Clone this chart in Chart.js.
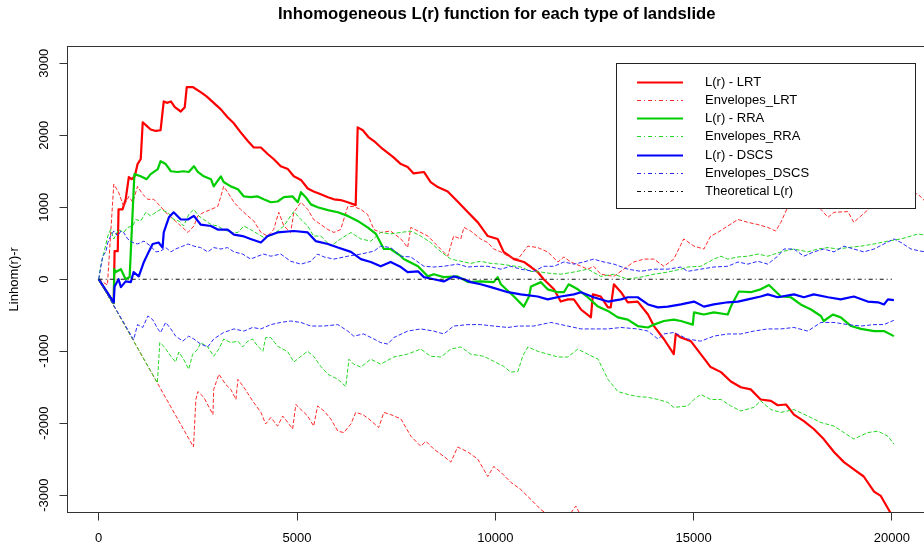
<!DOCTYPE html>
<html>
<head>
<meta charset="utf-8">
<title>Inhomogeneous L(r) function</title>
<script src="https://cdn.jsdelivr.net/npm/chart.js@4.4.1/dist/chart.umd.min.js"></script>
<style>
  html, body { margin: 0; padding: 0; background: #fff; overflow: hidden; }
  #wrap { position: relative; width: 930px; height: 550px; }
</style>
</head>
<body>
<div id="wrap"><canvas id="chart"></canvas></div>
<script>
// Axis ticks
const xTicks = [0, 5000, 10000, 15000, 20000];
const yTicks = [-3000, -2000, -1000, 0, 1000, 2000, 3000];

const chartTitle = 'Inhomogeneous L(r) function for each type of landslide';
const yTitle = 'Linhom(r)-r';

// Observed L(r)-r, one series per landslide type ([r, value])
const lrtObs = [[0,0],[380,-330],[400,390],[480,390],[500,970],[600,970],[680,1110],[760,1420],[830,1390],[910,1430],[980,1600],[1060,1670],[1110,2180],[1210,2130],[1310,2080],[1440,2060],[1560,2070],[1640,2470],[1720,2450],[1820,2470],[1920,2390],[2070,2330],[2170,2390],[2220,2670],[2370,2670],[2570,2600],[2720,2540],[2880,2460],[3080,2360],[3250,2250],[3400,2170],[3580,2040],[3760,1920],[3910,1830],[4090,1830],[4260,1740],[4410,1670],[4590,1570],[4770,1530],[4920,1430],[5100,1380],[5270,1260],[5420,1220],[5600,1180],[5780,1140],[5930,1110],[6100,1100],[6280,1070],[6430,1040],[6480,1030],[6530,2110],[6660,2070],[6810,1970],[6940,1920],[7160,1810],[7420,1700],[7620,1600],[7790,1560],[7940,1470],[8200,1490],[8370,1350],[8550,1280],[8800,1220],[9050,1080],[9310,930],[9560,790],[9810,600],[10060,560],[10210,380],[10470,280],[10720,240],[10900,170],[11070,100],[11220,0],[11480,-140],[11650,-310],[11830,-280],[11980,-280],[12160,-420],[12410,-530],[12460,-210],[12660,-240],[12840,-390],[12910,-390],[12990,-70],[13170,-180],[13340,-320],[13590,-310],[13850,-490],[14000,-650],[14250,-830],[14500,-1040],[14550,-760],[14680,-810],[14930,-860],[15180,-1040],[15430,-1220],[15690,-1290],[15940,-1420],[16190,-1500],[16440,-1530],[16690,-1670],[16950,-1690],[17120,-1750],[17330,-1740],[17530,-1880],[17780,-1970],[18030,-2080],[18280,-2220],[18540,-2400],[18790,-2540],[19040,-2640],[19290,-2740],[19550,-2950],[19720,-3010],[19970,-3250]];

const rraObs = [[0,0],[380,-330],[390,140],[430,100],[560,140],[680,0],[780,30],[900,1460],[1060,1430],[1210,1390],[1310,1460],[1490,1530],[1560,1640],[1690,1600],[1820,1500],[1990,1490],[2140,1500],[2270,1490],[2400,1570],[2500,1490],[2650,1430],[2830,1390],[2900,1290],[3080,1430],[3150,1350],[3330,1290],[3510,1250],[3660,1150],[3830,1140],[4010,1150],[4160,1110],[4340,1070],[4510,1080],[4670,1140],[4890,1150],[5020,1070],[5100,1210],[5220,1140],[5350,1040],[5520,1000],[5780,960],[6030,930],[6280,880],[6530,810],[6780,720],[6990,630],[7190,420],[7360,420],[7620,320],[7690,280],[8050,180],[8300,40],[8450,70],[8700,30],[9050,40],[9310,-40],[9630,-30],[9960,-40],[10060,30],[10140,-70],[10470,-240],[10720,-380],[10850,-240],[10900,-100],[11150,-40],[11320,-140],[11580,-180],[11730,-180],[11850,-70],[12080,-140],[12330,-250],[12590,-380],[12840,-440],[13090,-530],[13340,-560],[13590,-650],[13850,-670],[14000,-630],[14250,-580],[14500,-560],[14680,-580],[14980,-630],[15010,-460],[15260,-490],[15510,-460],[15860,-490],[15940,-380],[16140,-170],[16440,-180],[16690,-140],[16900,-80],[17070,-170],[17200,-240],[17450,-250],[17700,-350],[17960,-420],[18210,-510],[18280,-580],[18510,-490],[18710,-530],[18970,-650],[19220,-690],[19550,-720],[19800,-720],[20050,-790]];

const dscsObs = [[0,0],[380,-320],[400,-100],[500,0],[560,-110],[680,-30],[810,-40],[880,100],[1010,40],[1140,240],[1260,380],[1360,490],[1510,510],[1610,440],[1640,650],[1770,860],[1890,930],[2070,830],[2250,830],[2400,880],[2570,760],[2830,740],[3000,690],[3250,690],[3410,620],[3630,600],[3830,560],[4090,510],[4260,600],[4510,650],[4920,670],[5270,650],[5470,530],[5780,490],[6030,440],[6360,380],[6610,280],[6860,240],[7110,180],[7360,240],[7620,170],[7790,100],[8050,110],[8200,30],[8450,0],[8700,-30],[8950,40],[9210,0],[9380,-40],[9630,-70],[9890,-110],[10320,-180],[10640,-210],[11070,-240],[11320,-280],[11650,-240],[11980,-210],[12160,-180],[12480,-250],[12840,-310],[13170,-280],[13340,-250],[13590,-250],[13850,-350],[14100,-390],[14350,-380],[14680,-350],[15010,-310],[15260,-380],[15510,-350],[15860,-320],[16120,-310],[16370,-280],[16690,-240],[16870,-210],[17120,-250],[17530,-210],[17780,-250],[18030,-210],[18390,-250],[18710,-280],[19040,-240],[19390,-310],[19650,-320],[19800,-350],[19900,-280],[20050,-290]];

// Simulation envelopes (upper / lower)
const lrtEnvHi = [[0,0],[220,-80],[380,1320],[500,1210],[630,1010],[760,1150],[860,1070],[980,1290],[1110,1180],[1240,1110],[1390,1110],[1560,1010],[1740,900],[1890,830],[2070,740],[2250,650],[2400,740],[2500,880],[2650,930],[2830,970],[3000,1010],[3080,1150],[3150,1290],[3250,1210],[3410,1070],[3580,970],[3760,880],[3910,810],[4090,650],[4260,600],[4410,690],[4540,930],[4670,740],[4840,650],[4920,930],[5100,1070],[5270,970],[5420,830],[5600,760],[5780,690],[5930,650],[6100,690],[6280,1010],[6430,1010],[6610,970],[6780,900],[6940,690],[7110,650],[7360,670],[7620,560],[7790,440],[7870,720],[8050,670],[8300,600],[8550,460],[8800,320],[8950,600],[9130,560],[9210,720],[9380,670],[9630,560],[9810,510],[9960,420],[10140,380],[10320,320],[10570,280],[10820,460],[11070,440],[11320,380],[11580,240],[11730,310],[11900,240],[12160,180],[12330,140],[12480,180],[12660,70],[12990,40],[13240,140],[13490,240],[13750,280],[14000,280],[14250,180],[14500,280],[14750,560],[15010,460],[15260,420],[15430,600],[15610,650],[15860,740],[16120,830],[16370,790],[16620,760],[16870,720],[17070,670],[17200,790],[17380,1010],[17450,1110],[17700,1220],[18010,1250],[18210,970],[18390,860],[18540,930],[18890,940],[19040,790],[19220,880],[19470,1000],[20050,1110],[20230,1150],[20480,1210],[20660,1180],[20860,1070]];

const lrtEnvLo = [[0,0],[2390,-2330],[2450,-1670],[2500,-1560],[2650,-1640],[2880,-1880],[2900,-1530],[3030,-1320],[3200,-1460],[3330,-1530],[3460,-1670],[3510,-1390],[3660,-1500],[3880,-1690],[4090,-1850],[4210,-2010],[4340,-1920],[4510,-2040],[4640,-1900],[4770,-1990],[4890,-2080],[4970,-1740],[5100,-1810],[5270,-1900],[5420,-2040],[5520,-1760],[5680,-1830],[5850,-1940],[6030,-2110],[6180,-2130],[6360,-2010],[6480,-1850],[6660,-1880],[6810,-1940],[7060,-2060],[7190,-1850],[7360,-1880],[7620,-1940],[7870,-2180],[8120,-2320],[8250,-2250],[8450,-2360],[8700,-2460],[8880,-2540],[9050,-2330],[9310,-2400],[9560,-2500],[9810,-2740],[9960,-2600],[10140,-2680],[10390,-2820],[10640,-2920],[10900,-3060],[11150,-3200],[11400,-3300],[11780,-3340],[12030,-3150],[12200,-3330],[13000,-3500],[14000,-3700],[15000,-3900],[16000,-4100],[17000,-4300],[18000,-4500],[19000,-4700],[20000,-4900]];

const rraEnvHi = [[0,0],[50,180],[230,600],[300,690],[380,560],[500,690],[630,650],[730,720],[860,740],[930,830],[1060,810],[1190,930],[1310,880],[1440,930],[1560,970],[1740,930],[1890,830],[2020,810],[2140,740],[2270,900],[2400,970],[2520,880],[2650,830],[2830,760],[3000,740],[3150,690],[3330,650],[3510,650],[3660,740],[3830,690],[4010,630],[4160,580],[4340,600],[4510,670],[4670,740],[4840,880],[4920,940],[5100,830],[5270,740],[5420,600],[5600,600],[5850,460],[6100,560],[6360,650],[6610,560],[6860,530],[7110,650],[7360,630],[7620,650],[7870,670],[8120,600],[8370,510],[8630,380],[8880,280],[9130,250],[9380,220],[9630,250],[9890,220],[10140,210],[10390,190],[10640,170],[10900,110],[11150,100],[11400,80],[11650,70],[11980,100],[12330,140],[12660,40],[12990,70],[13340,0],[13670,30],[14000,70],[14350,100],[14680,140],[14850,170],[15180,180],[15510,280],[15690,320],[15860,280],[16120,310],[16370,320],[16620,350],[16870,320],[17200,380],[17530,420],[17880,380],[18130,420],[18390,440],[18640,420],[18890,440],[19220,460],[19550,490],[19900,530],[20230,560],[20480,600],[20660,630],[20860,610]];

const rraEnvLo = [[0,0],[1480,-1440],[1540,-880],[1640,-930],[1820,-1070],[1940,-1150],[2020,-1010],[2140,-1110],[2270,-1250],[2370,-1040],[2500,-970],[2570,-880],[2750,-940],[2900,-1070],[3030,-970],[3150,-830],[3330,-880],[3510,-860],[3630,-940],[3760,-860],[3880,-830],[4010,-930],[4140,-1000],[4210,-810],[4340,-810],[4510,-930],[4770,-1010],[4920,-1150],[5100,-1070],[5270,-1000],[5420,-1070],[5600,-1210],[5780,-1320],[6030,-1390],[6230,-1490],[6310,-1110],[6430,-1180],[6610,-1220],[6860,-1110],[7110,-1180],[7440,-1080],[7790,-1040],[8120,-970],[8370,-1070],[8630,-1080],[8880,-970],[9130,-940],[9380,-1040],[9710,-1070],[9960,-1140],[10210,-1210],[10390,-1290],[10570,-1280],[10690,-1070],[10820,-940],[11070,-1000],[11320,-1040],[11580,-1080],[11830,-1080],[12080,-970],[12330,-1040],[12590,-1110],[12840,-1390],[13090,-1560],[13340,-1600],[13590,-1630],[13850,-1640],[14100,-1670],[14350,-1710],[14500,-1780],[14850,-1760],[15010,-1670],[15180,-1600],[15430,-1670],[15690,-1670],[15940,-1760],[16190,-1830],[16520,-1780],[16690,-1690],[16950,-1810],[17200,-1850],[17530,-1810],[17880,-1900],[18210,-1990],[18540,-2040],[18790,-2130],[19040,-2220],[19390,-2130],[19650,-2110],[19900,-2180],[20050,-2290]];

const dscsEnvHi = [[0,0],[100,320],[180,380],[230,510],[300,600],[380,670],[480,600],[560,670],[630,650],[730,560],[860,510],[980,490],[1140,530],[1310,460],[1440,380],[1560,390],[1690,440],[1820,380],[1940,420],[2120,460],[2250,490],[2400,460],[2570,440],[2750,380],[2900,440],[3080,420],[3250,440],[3410,380],[3630,350],[3830,280],[4010,320],[4160,350],[4340,320],[4590,350],[4840,250],[5100,210],[5350,250],[5520,350],[5680,310],[5930,280],[6280,320],[6610,350],[6940,390],[7110,460],[7360,440],[7620,320],[7870,310],[8200,180],[8450,170],[8700,180],[9050,210],[9310,170],[9560,180],[9810,180],[10140,140],[10390,180],[10640,140],[10970,110],[11220,180],[11480,180],[11730,240],[11980,210],[12230,240],[12480,280],[12660,250],[12990,210],[13340,140],[13670,110],[14000,140],[14350,140],[14680,170],[14850,110],[15180,140],[15510,170],[15860,180],[16120,240],[16370,210],[16620,250],[16870,210],[17120,320],[17280,420],[17530,420],[17780,320],[18030,380],[18280,420],[18540,380],[18790,460],[19040,420],[19290,380],[19550,420],[19800,490],[20050,560],[20230,510],[20480,420],[20730,390],[20860,380]];

const dscsEnvLo = [[0,0],[880,-840],[980,-630],[1110,-670],[1240,-510],[1360,-560],[1490,-690],[1560,-740],[1690,-600],[1820,-690],[1940,-790],[2120,-860],[2270,-790],[2400,-830],[2570,-900],[2750,-940],[2900,-830],[3150,-740],[3410,-690],[3660,-720],[3880,-670],[4090,-690],[4340,-630],[4590,-600],[4840,-580],[5100,-600],[5350,-650],[5680,-650],[6030,-630],[6280,-720],[6430,-790],[6680,-760],[6940,-830],[7110,-880],[7290,-900],[7440,-810],[7790,-720],[8120,-690],[8450,-720],[8700,-760],[8950,-650],[9310,-630],[9630,-630],[9960,-650],[10320,-670],[10570,-650],[10970,-650],[11400,-600],[11830,-650],[12160,-690],[12480,-690],[12840,-690],[13170,-670],[13590,-690],[13850,-720],[14100,-830],[14250,-760],[14500,-740],[14850,-830],[15180,-860],[15510,-790],[15860,-760],[16190,-760],[16520,-720],[16870,-690],[17200,-690],[17530,-670],[17880,-720],[18210,-600],[18540,-600],[18890,-630],[19220,-650],[19550,-630],[19800,-630],[20050,-570]];

const theoLine = [[0,0],[20000,0]];

const dotDash = [4, 3, 1, 3];
const envDash = [4, 2];
const fontFamily = '"Liberation Sans", Arial, Helvetica, sans-serif';

function pts(arr) {
    return arr.map(p => ({ x: p[0], y: p[1] }));
}

function series(label, data, color, width, dash, order, inLegend) {
    return {
        label: label,
        data: pts(data),
        borderColor: color,
        borderWidth: width,
        borderDash: dash,
        legendDash: dash.length ? dotDash : [],
        pointRadius: 0,
        tension: 0,
        fill: false,
        borderJoinStyle: 'round',
        order: order,
        inLegend: inLegend
    };
}

const datasets = [
    series('L(r) - LRT', lrtObs, '#ff0000', 2.2, [], 7, true),
    series('Envelopes_LRT', lrtEnvHi, '#ff2a2a', 1, envDash, 6, true),
    series('Envelopes_LRT', lrtEnvLo, '#ff2a2a', 1, envDash, 6, false),
    series('L(r) - RRA', rraObs, '#00cd00', 2.2, [], 5, true),
    series('Envelopes_RRA', rraEnvHi, '#22d822', 1, envDash, 4, true),
    series('Envelopes_RRA', rraEnvLo, '#22d822', 1, envDash, 4, false),
    series('L(r) - DSCS', dscsObs, '#0000ff', 2.2, [], 3, true),
    series('Envelopes_DSCS', dscsEnvHi, '#2a2aff', 1, envDash, 2, true),
    series('Envelopes_DSCS', dscsEnvLo, '#2a2aff', 1, envDash, 2, false),
    series('Theoretical L(r)', theoLine, '#111111', 1, dotDash, 1, true)
];

// R-style frame, title, y label and boxed legend
const rFrame = {
    id: 'rFrame',
    afterDraw(chart) {
        const ctx = chart.ctx;
        const a = chart.chartArea;
        ctx.save();

        // legend box
        const lx = 616.5, ly = 63.5, lw = 299, lh = 145;
        ctx.fillStyle = '#ffffff';
        ctx.fillRect(lx, ly, lw, lh);
        ctx.strokeStyle = '#222';
        ctx.lineWidth = 1;
        ctx.setLineDash([]);
        ctx.strokeRect(lx, ly, lw, lh);
        const items = chart.data.datasets.filter(d => d.inLegend);
        ctx.font = '13px ' + fontFamily;
        ctx.textAlign = 'left';
        ctx.textBaseline = 'middle';
        items.forEach((d, i) => {
            const yy = Math.round(82 + i * 18.15) + 0.5;
            ctx.strokeStyle = d.borderColor;
            ctx.lineWidth = d.borderWidth;
            ctx.setLineDash(d.legendDash);
            ctx.beginPath();
            ctx.moveTo(637, yy);
            ctx.lineTo(683, yy);
            ctx.stroke();
            ctx.fillStyle = '#000';
            ctx.fillText(d.label, 705, yy);
        });
        ctx.setLineDash([]);

        // plot box
        ctx.strokeStyle = '#333';
        ctx.lineWidth = 1;
        ctx.strokeRect(Math.round(a.left) + 0.5, Math.round(a.top) + 0.5,
            Math.round(a.right - a.left), Math.round(a.bottom - a.top) - 1);

        // title
        ctx.fillStyle = '#000';
        ctx.font = 'bold 16.7px ' + fontFamily;
        ctx.textAlign = 'center';
        ctx.textBaseline = 'alphabetic';
        ctx.fillText(chartTitle, (a.left + a.right) / 2, 19);

        // y axis title
        ctx.font = '13px ' + fontFamily;
        ctx.translate(14, (a.top + a.bottom) / 2);
        ctx.rotate(-Math.PI / 2);
        ctx.textBaseline = 'middle';
        ctx.fillText(yTitle, 0, 0);
        ctx.restore();
    }
};

new Chart(document.getElementById('chart'), {
    type: 'line',
    data: { datasets: datasets },
    options: {
        responsive: true,
        maintainAspectRatio: false,
        animation: false,
        layout: { padding: { top: 46, left: 0, right: 3, bottom: 0 } },
        plugins: {
            legend: { display: false },
            title: { display: false },
            tooltip: { enabled: false }
        },
        scales: {
            x: {
                type: 'linear',
                min: -812,
                max: 20885,
                afterBuildTicks: s => { s.ticks = xTicks.map(v => ({ value: v })); },
                afterFit: s => { s.height = 37.5; },
                grid: { drawOnChartArea: false, drawTicks: true, tickLength: 8, tickColor: '#333', lineWidth: 1 },
                border: { display: false },
                ticks: {
                    autoSkip: false,
                    maxRotation: 0,
                    padding: 10,
                    color: '#000',
                    font: { family: fontFamily, size: 13 },
                    callback: v => String(v)
                }
            },
            y: {
                type: 'linear',
                min: -3240,
                max: 3240,
                afterBuildTicks: s => { s.ticks = yTicks.map(v => ({ value: v })); },
                afterFit: s => { s.width = 66.5; },
                grid: { drawOnChartArea: false, drawTicks: true, tickLength: 7, tickColor: '#333', lineWidth: 1 },
                border: { display: false },
                ticks: {
                    autoSkip: false,
                    minRotation: 90,
                    maxRotation: 90,
                    crossAlign: 'center',
                    padding: -2,
                    color: '#000',
                    font: { family: fontFamily, size: 13 },
                    callback: v => String(v)
                }
            }
        }
    },
    plugins: [rFrame]
});
</script>
</body>
</html>
